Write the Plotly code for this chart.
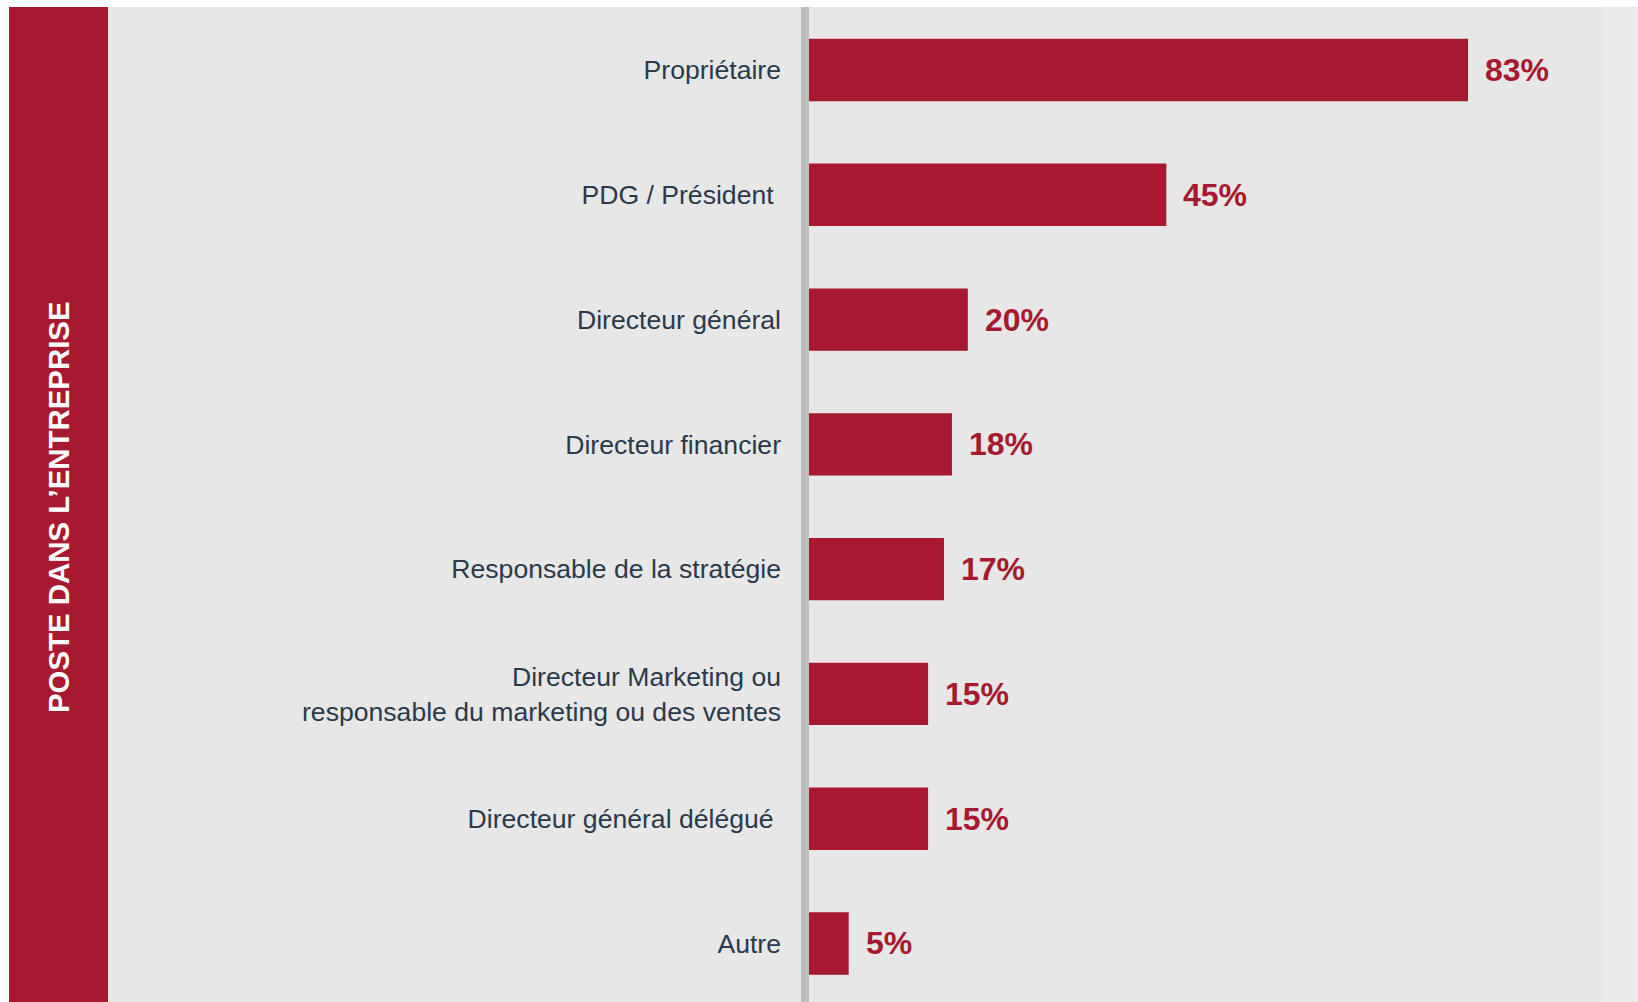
import plotly.graph_objects as go

# Survey: position held in the company (share of respondents, %)
categories = [
    "Propriétaire",
    "PDG / Président ",
    "Directeur général",
    "Directeur financier",
    "Responsable de la stratégie",
    "Directeur Marketing ou<br>responsable du marketing ou des ventes",
    "Directeur général délégué ",
    "Autre",
]
values = [83, 45, 20, 18, 17, 15, 15, 5]
value_labels = ["83%", "45%", "20%", "18%", "17%", "15%", "15%", "5%"]
band_title = "POSTE DANS L’ENTREPRISE"

# Page geometry (pixels)
W, H = 1638, 1002
TOP = 7                 # white strip on top
BAND_X0, BAND_X1 = 9, 108
PANEL_X1 = 1603
PLOT_L = 809
PLOT_R = PANEL_X1
BASELINE_W = 8

RED = "#A6192E"
PANEL = "#E7E7E7"
EDGE = "#EBEBEB"
TEXT = "#2A3A4A"
FONT = "Liberation Sans, Arial, sans-serif"

plot_w = PLOT_R - PLOT_L
plot_h = H - TOP


def px_x(p):
    return (p - PLOT_L) / plot_w


def px_y(p):
    return 1 - (p - TOP) / plot_h


fig = go.Figure(
    go.Bar(
        x=values,
        y=categories,
        orientation="h",
        width=0.5,
        marker=dict(color=RED, line=dict(width=0)),
        hoverinfo="skip",
    )
)

shapes = [
    # grey panel behind labels and bars
    dict(type="rect", xref="paper", yref="paper", x0=px_x(BAND_X1), x1=px_x(PANEL_X1),
         y0=px_y(H), y1=px_y(TOP), fillcolor=PANEL, line=dict(width=0), layer="below"),
    # lighter strip at the right edge
    dict(type="rect", xref="paper", yref="paper", x0=px_x(PANEL_X1), x1=px_x(W),
         y0=px_y(H), y1=px_y(TOP), fillcolor=EDGE, line=dict(width=0), layer="below"),
    # red side band
    dict(type="rect", xref="paper", yref="paper", x0=px_x(BAND_X0), x1=px_x(BAND_X1),
         y0=px_y(H), y1=px_y(TOP), fillcolor=RED, line=dict(width=0), layer="below"),
    # vertical baseline just left of the bars
    dict(type="rect", xref="paper", yref="paper",
         x0=px_x(PLOT_L - BASELINE_W), x1=px_x(PLOT_L), y0=px_y(H), y1=px_y(TOP),
         fillcolor="#BDBEBD", line=dict(width=0), layer="above"),
]

annotations = [
    dict(x=v, y=c, xref="x", yref="y", text=t, showarrow=False,
         xanchor="left", yanchor="middle", xshift=15,
         font=dict(family=FONT, size=32, color=RED, weight="bold"))
    for v, c, t in zip(values, categories, value_labels)
]
annotations.append(
    dict(x=px_x(58.5), y=px_y(507.5), xref="paper", yref="paper", text=band_title,
         showarrow=False, textangle=-90, xanchor="center", yanchor="middle",
         font=dict(family=FONT, size=29.4, color="white", weight="bold"))
)

fig.update_layout(
    width=W,
    height=H,
    margin=dict(l=PLOT_L, r=W - PLOT_R, t=TOP, b=0, pad=0),
    paper_bgcolor="white",
    plot_bgcolor="rgba(0,0,0,0)",
    showlegend=False,
    shapes=shapes,
    annotations=annotations,
    xaxis=dict(range=[0, 100], visible=False, fixedrange=True),
    yaxis=dict(
        type="category",
        range=[7.469, -0.505],
        autorange=False,
        showgrid=False,
        zeroline=False,
        showline=False,
        ticks="",
        ticklabelstandoff=27,
        tickfont=dict(family=FONT, size=26.6, color=TEXT),
        fixedrange=True,
    ),
)

fig.write_html("out.html", config={"displayModeBar": False})
